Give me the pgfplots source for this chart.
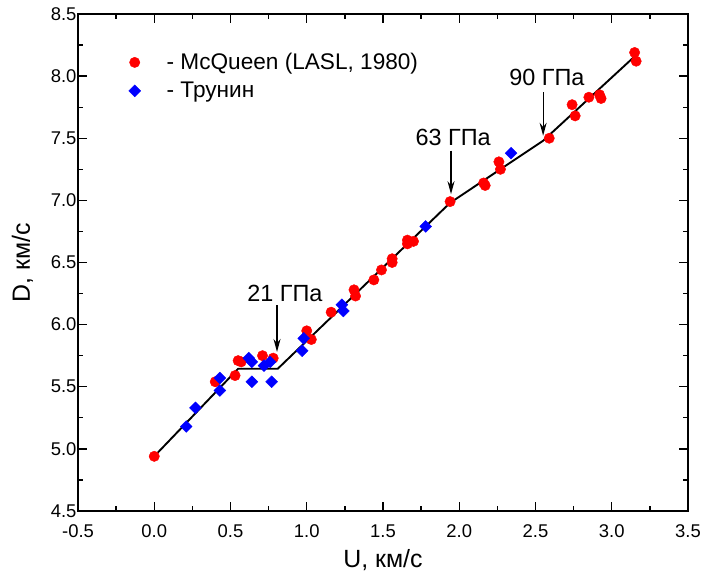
\documentclass[border=0pt]{standalone}
\usepackage{fontspec}
\setmainfont{Liberation Sans}
\usepackage{pgfplots}
\pgfplotsset{compat=1.18}
\usetikzlibrary{arrows.meta}

\pgfplotstableread{
U D
0.00 4.94
0.40 5.54
0.53 5.59
0.55 5.71
0.57 5.70
0.71 5.75
0.78 5.73
1.00 5.95
1.03 5.88
1.16 6.10
1.31 6.28
1.32 6.23
1.44 6.36
1.49 6.44
1.56 6.50
1.56 6.53
1.66 6.68
1.66 6.65
1.70 6.67
1.94 6.99
2.16 7.14
2.17 7.12
2.26 7.31
2.27 7.25
2.59 7.50
2.74 7.77
2.76 7.68
2.85 7.83
2.92 7.85
2.93 7.82
3.15 8.19
3.16 8.12
}\mcqueen

\pgfplotstableread{
U D
0.21 5.18
0.27 5.33
0.43 5.57
0.43 5.47
0.62 5.73
0.64 5.70
0.64 5.54
0.72 5.67
0.76 5.70
0.77 5.54
0.97 5.79
0.98 5.89
1.23 6.16
1.24 6.11
1.78 6.79
2.34 7.38
}\trunin

\pgfplotstableread{
U D
0.00 4.94
0.55 5.645
0.81 5.645
1.94 6.98
2.55 7.48
3.16 8.17
}\fitline

\begin{document}
\begin{tikzpicture}
\begin{axis}[
  scale only axis, width=610bp, height=497bp,
  xmin=-0.5, xmax=3.5, ymin=4.5, ymax=8.5,
  xtick={-0.5,0,0.5,1,1.5,2,2.5,3,3.5},
  ytick={4.5,5,5.5,6,6.5,7,7.5,8,8.5},
  minor x tick num=1, minor y tick num=1,
  tick align=inside,
  major tick length=9bp, minor tick length=5bp,
  axis line style={line width=1.6bp},
  every tick/.style={black, line width=1.3bp},
  /pgf/number format/.cd, fixed, fixed zerofill, precision=1, assume math mode=true,
  /pgfplots/.cd,
  tick label style={font=\fontsize{18.5}{18.5}\selectfont},
  xticklabel style={yshift=-10bp},
  yticklabel style={xshift=2bp},
  xlabel={U, км/с}, ylabel={D, км/с},
  label style={font=\fontsize{25}{25}\selectfont},
  xlabel style={yshift=-5bp},
  ylabel style={yshift=11bp},
  legend style={at={(rel axis cs:0.078,0.929)}, anchor=north west, draw=none, fill=none,
    font=\fontsize{22.7}{22.7}\selectfont, row sep=7bp,
    /tikz/every odd column/.append style={column sep=24bp}},
  legend cell align=left,
]
\addplot[only marks, mark=*, mark size=5.2bp, color=red, mark options={draw=red, fill=red}] table[x=U,y=D] {\mcqueen};
\addlegendentry{- McQueen (LASL, 1980)}
\addplot[only marks, mark=square*, mark size=4.2bp, color=blue, mark options={draw=blue, fill=blue, rotate=45}] table[x=U,y=D] {\trunin};
\addlegendentry{- Трунин}
\addplot[black, line width=1.9bp, forget plot] table[x=U,y=D] {\fitline};

\draw[-{Stealth[length=13bp,width=7bp]}, line width=1.2bp] (axis cs:0.805,6.157) -- (axis cs:0.805,5.78);
\draw[-{Stealth[length=13bp,width=7bp]}, line width=1.2bp] (axis cs:1.946,7.40) -- (axis cs:1.946,7.05);
\draw[-{Stealth[length=13bp,width=7bp]}, line width=1.2bp] (axis cs:2.55,7.87) -- (axis cs:2.55,7.52);
\node[font=\fontsize{23.5}{23.5}\selectfont] at (axis cs:0.857,6.25) {21 ГПа};
\node[font=\fontsize{23.5}{23.5}\selectfont] at (axis cs:1.96,7.51) {63 ГПа};
\node[font=\fontsize{23.5}{23.5}\selectfont] at (axis cs:2.575,7.99) {90 ГПа};
\end{axis}
\pgfresetboundingbox
\path ([shift={(-78bp,-64bp)}]current axis.south west) rectangle ([shift={(14bp,14bp)}]current axis.north east);
\end{tikzpicture}
\end{document}
